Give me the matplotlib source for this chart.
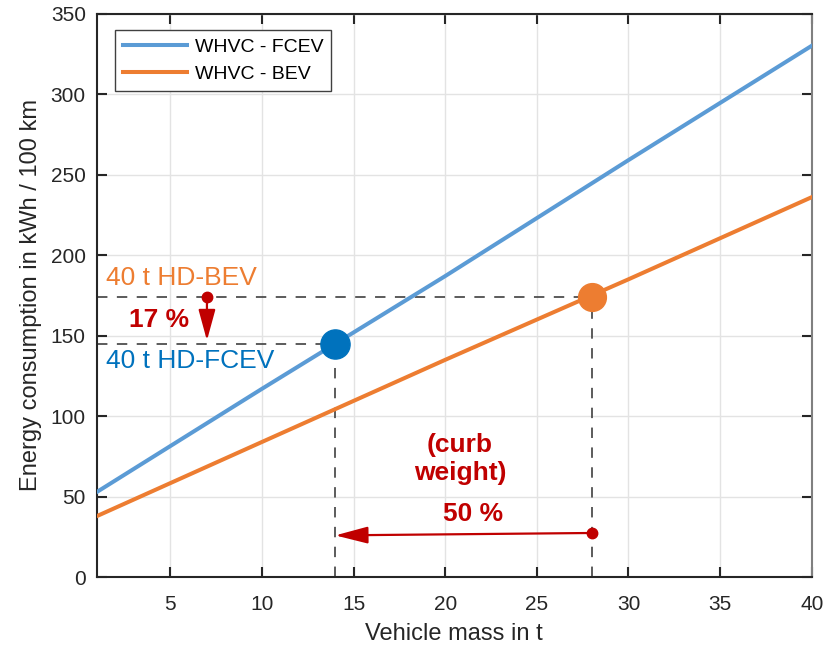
import matplotlib
matplotlib.use("Agg")
import matplotlib.pyplot as plt

plt.rcParams['font.family'] = ['Liberation Sans', 'DejaVu Sans']
plt.rcParams['lines.scale_dashes'] = False

# ---- data ----
mass = [1, 10, 20, 30, 40]
fcev = [53, 117, 187, 259, 330]
bev = [38, 84, 135, 185, 236]
series_labels = ["WHVC - FCEV", "WHVC - BEV"]

fcev_pt = (14, 145)
bev_pt = (28, 174)

x_ticks = [5, 10, 15, 20, 25, 30, 35, 40]
y_ticks = [0, 50, 100, 150, 200, 250, 300, 350]

# ---- style ----
c_fcev_line = '#5B9BD5'
c_bev_line = '#ED7D31'
c_fcev_dot = '#0072BD'
c_bev_dot = '#ED7D31'
c_red = '#C00000'
c_dark = '#262626'
c_dash = '#404040'

fig = plt.figure(figsize=(8.36, 6.45), dpi=100)
ax = fig.add_axes([0.116, 0.105, 0.855, 0.874])

ax.set_xlim(1, 40)
ax.set_ylim(0, 350)
ax.set_xticks(x_ticks)
ax.set_yticks(y_ticks)
ax.grid(True, color='#e3e3e3', lw=1.0)
ax.set_axisbelow(True)

# dashed helper lines
dash = dict(color=c_dash, lw=1.2, linestyle=(0, (7.5, 6.8)), zorder=2)
ax.plot([1, fcev_pt[0]], [fcev_pt[1]] * 2, **dash)
ax.plot([1, bev_pt[0]], [bev_pt[1]] * 2, **dash)
ax.plot([fcev_pt[0]] * 2, [0, fcev_pt[1]], **dash)
ax.plot([bev_pt[0]] * 2, [0, bev_pt[1]], **dash)

l1, = ax.plot(mass, fcev, color=c_fcev_line, lw=2.9, zorder=3, label=series_labels[0])
l2, = ax.plot(mass, bev, color=c_bev_line, lw=2.9, zorder=3, label=series_labels[1])

ax.plot(*fcev_pt, 'o', color=c_fcev_dot, ms=21, zorder=5)
ax.plot(*bev_pt, 'o', color=c_bev_dot, ms=20, zorder=5)

# arrows
ax.annotate('', xy=(7, 147), xytext=(7, 174),
            arrowprops=dict(arrowstyle='-|>,head_length=1.9,head_width=0.52',
                            color=c_red, lw=1.6, shrinkA=0, shrinkB=0), zorder=6)
ax.plot(7, 174, 'o', color=c_red, ms=7.5, zorder=6)
ax.annotate('', xy=(14, 26), xytext=(28, 27.5),
            arrowprops=dict(arrowstyle='-|>,head_length=2.0,head_width=0.52',
                            color=c_red, lw=1.6, shrinkA=0, shrinkB=0), zorder=6)
ax.plot(28, 27.5, 'o', color=c_red, ms=7.5, zorder=6)

# texts
ax.text(1.5, 185.5, '40 t HD-BEV', color=c_bev_dot, fontsize=19, va='center', ha='left')
ax.text(1.5, 134.5, '40 t HD-FCEV', color=c_fcev_dot, fontsize=19, va='center', ha='left')
ax.text(4.4, 160, '17 %', color=c_red, fontsize=19, fontweight='bold', va='center', ha='center')
ax.text(20.8, 73.6, '(curb\nweight)', color=c_red, fontsize=19, fontweight='bold',
        va='center', ha='center', multialignment='center', linespacing=1.2)
ax.text(21.5, 39.5, '50 %', color=c_red, fontsize=19, fontweight='bold', va='center', ha='center')

# axes styling
ax.set_xlabel('Vehicle mass in t', fontsize=17, color=c_dark, labelpad=6)
ax.set_ylabel('Energy consumption in kWh / 100 km', fontsize=17, color=c_dark, labelpad=6)
ax.tick_params(direction='in', length=7, width=1.5, colors=c_dark, labelsize=15,
               top=True, right=True)
ax.tick_params(axis='x', pad=13)
ax.tick_params(axis='y', pad=8)
for s in ['left', 'bottom', 'top']:
    ax.spines[s].set_color(c_dark)
    ax.spines[s].set_linewidth(1.5)
ax.spines['right'].set_color('#808080')
ax.spines['right'].set_linewidth(1.5)

leg = ax.legend(handles=[l1, l2], loc='upper left', bbox_to_anchor=(0.025, 0.970),
                borderaxespad=0, fontsize=14, handlelength=3.3, fancybox=False,
                framealpha=1, edgecolor='#404040', labelspacing=0.5,
                borderpad=0.4, handletextpad=0.4)
leg.get_frame().set_linewidth(1.0)
for t in leg.get_texts():
    t.set_color('black')

fig.savefig('out.png', dpi=100)
